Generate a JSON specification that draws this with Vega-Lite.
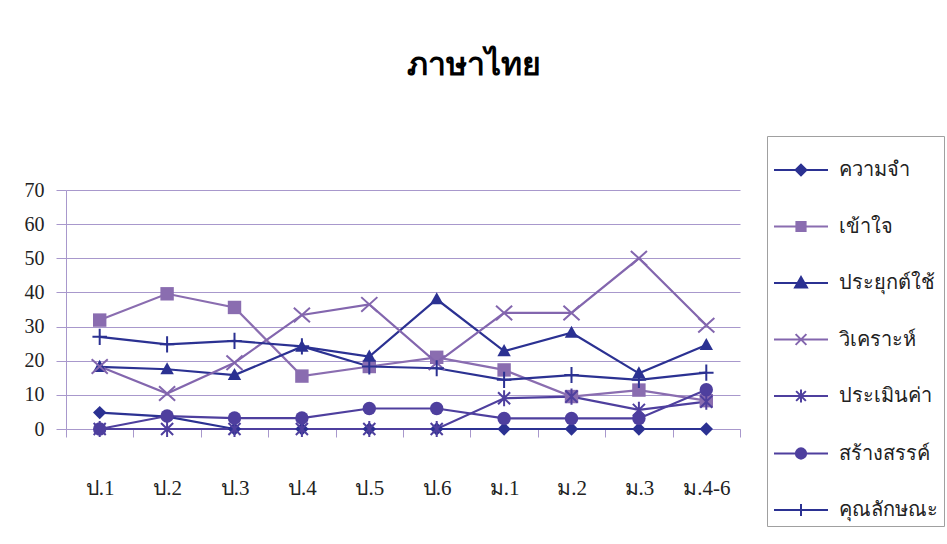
{
  "$schema": "https://vega.github.io/schema/vega-lite/v6.json",
  "width": 674,
  "height": 239,
  "autosize": {"type": "none"},
  "padding": {"left": 66, "top": 190, "right": 207, "bottom": 115},
  "background": "white",
  "title": {
    "text": "ภาษาไทย",
    "fontSize": 32,
    "fontWeight": "bold",
    "font": "Liberation Serif",
    "color": "black",
    "anchor": "middle",
    "frame": "bounds",
    "offset": 54,
    "dx": -10
  },
  "data": {
    "values": [
      {"grade": "ป.1", "series": "ความจำ", "value": 4.8},
      {"grade": "ป.2", "series": "ความจำ", "value": 3.6},
      {"grade": "ป.3", "series": "ความจำ", "value": 0},
      {"grade": "ป.4", "series": "ความจำ", "value": 0},
      {"grade": "ป.5", "series": "ความจำ", "value": 0},
      {"grade": "ป.6", "series": "ความจำ", "value": 0},
      {"grade": "ม.1", "series": "ความจำ", "value": 0},
      {"grade": "ม.2", "series": "ความจำ", "value": 0},
      {"grade": "ม.3", "series": "ความจำ", "value": 0},
      {"grade": "ม.4-6", "series": "ความจำ", "value": 0},
      {"grade": "ป.1", "series": "เข้าใจ", "value": 31.9},
      {"grade": "ป.2", "series": "เข้าใจ", "value": 39.6},
      {"grade": "ป.3", "series": "เข้าใจ", "value": 35.6},
      {"grade": "ป.4", "series": "เข้าใจ", "value": 15.5},
      {"grade": "ป.5", "series": "เข้าใจ", "value": 18.3},
      {"grade": "ป.6", "series": "เข้าใจ", "value": 21.0},
      {"grade": "ม.1", "series": "เข้าใจ", "value": 17.3},
      {"grade": "ม.2", "series": "เข้าใจ", "value": 9.5},
      {"grade": "ม.3", "series": "เข้าใจ", "value": 11.4},
      {"grade": "ม.4-6", "series": "เข้าใจ", "value": 8.3},
      {"grade": "ป.1", "series": "ประยุกต์ใช้", "value": 18.2},
      {"grade": "ป.2", "series": "ประยุกต์ใช้", "value": 17.5},
      {"grade": "ป.3", "series": "ประยุกต์ใช้", "value": 15.8},
      {"grade": "ป.4", "series": "ประยุกต์ใช้", "value": 24.1},
      {"grade": "ป.5", "series": "ประยุกต์ใช้", "value": 21.2},
      {"grade": "ป.6", "series": "ประยุกต์ใช้", "value": 38.0},
      {"grade": "ม.1", "series": "ประยุกต์ใช้", "value": 22.8},
      {"grade": "ม.2", "series": "ประยุกต์ใช้", "value": 28.2},
      {"grade": "ม.3", "series": "ประยุกต์ใช้", "value": 16.3},
      {"grade": "ม.4-6", "series": "ประยุกต์ใช้", "value": 24.6},
      {"grade": "ป.1", "series": "วิเคราะห์", "value": 18.3},
      {"grade": "ป.2", "series": "วิเคราะห์", "value": 10.4},
      {"grade": "ป.3", "series": "วิเคราะห์", "value": 19.4},
      {"grade": "ป.4", "series": "วิเคราะห์", "value": 33.4},
      {"grade": "ป.5", "series": "วิเคราะห์", "value": 36.5},
      {"grade": "ป.6", "series": "วิเคราะห์", "value": 19.4},
      {"grade": "ม.1", "series": "วิเคราะห์", "value": 34.0},
      {"grade": "ม.2", "series": "วิเคราะห์", "value": 34.0},
      {"grade": "ม.3", "series": "วิเคราะห์", "value": 50.0},
      {"grade": "ม.4-6", "series": "วิเคราะห์", "value": 30.4},
      {"grade": "ป.1", "series": "ประเมินค่า", "value": 0},
      {"grade": "ป.2", "series": "ประเมินค่า", "value": 0},
      {"grade": "ป.3", "series": "ประเมินค่า", "value": 0},
      {"grade": "ป.4", "series": "ประเมินค่า", "value": 0},
      {"grade": "ป.5", "series": "ประเมินค่า", "value": 0},
      {"grade": "ป.6", "series": "ประเมินค่า", "value": 0},
      {"grade": "ม.1", "series": "ประเมินค่า", "value": 9.0},
      {"grade": "ม.2", "series": "ประเมินค่า", "value": 9.5},
      {"grade": "ม.3", "series": "ประเมินค่า", "value": 5.6},
      {"grade": "ม.4-6", "series": "ประเมินค่า", "value": 8.0},
      {"grade": "ป.1", "series": "สร้างสรรค์", "value": 0},
      {"grade": "ป.2", "series": "สร้างสรรค์", "value": 3.8},
      {"grade": "ป.3", "series": "สร้างสรรค์", "value": 3.2},
      {"grade": "ป.4", "series": "สร้างสรรค์", "value": 3.2},
      {"grade": "ป.5", "series": "สร้างสรรค์", "value": 6.0},
      {"grade": "ป.6", "series": "สร้างสรรค์", "value": 6.0},
      {"grade": "ม.1", "series": "สร้างสรรค์", "value": 3.1},
      {"grade": "ม.2", "series": "สร้างสรรค์", "value": 3.1},
      {"grade": "ม.3", "series": "สร้างสรรค์", "value": 3.1},
      {"grade": "ม.4-6", "series": "สร้างสรรค์", "value": 11.5},
      {"grade": "ป.1", "series": "คุณลักษณะ", "value": 27.0},
      {"grade": "ป.2", "series": "คุณลักษณะ", "value": 24.8},
      {"grade": "ป.3", "series": "คุณลักษณะ", "value": 25.8},
      {"grade": "ป.4", "series": "คุณลักษณะ", "value": 24.2},
      {"grade": "ป.5", "series": "คุณลักษณะ", "value": 18.3},
      {"grade": "ป.6", "series": "คุณลักษณะ", "value": 17.8},
      {"grade": "ม.1", "series": "คุณลักษณะ", "value": 14.4},
      {"grade": "ม.2", "series": "คุณลักษณะ", "value": 15.8},
      {"grade": "ม.3", "series": "คุณลักษณะ", "value": 14.4},
      {"grade": "ม.4-6", "series": "คุณลักษณะ", "value": 16.5}
    ]
  },
  "encoding": {
    "x": {
      "field": "grade",
      "type": "ordinal",
      "sort": null,
      "scale": {"paddingInner": 0, "paddingOuter": 0},
      "axis": {
        "title": null,
        "labelAngle": 0,
        "labelFont": "Liberation Serif",
        "labelFontSize": 21,
        "labelColor": "#222222",
        "labelPadding": 40,
        "tickBand": "extent",
        "tickSize": 8,
        "tickColor": "#A898CC",
        "domainColor": "#A898CC",
        "grid": false
      }
    },
    "y": {
      "field": "value",
      "type": "quantitative",
      "scale": {"domain": [0, 70], "nice": false},
      "axis": {
        "title": null,
        "values": [0, 10, 20, 30, 40, 50, 60, 70],
        "labelFont": "Liberation Serif",
        "labelFontSize": 20,
        "labelColor": "#222222",
        "labelPadding": 12,
        "tickSize": 10,
        "tickColor": "#A898CC",
        "domainColor": "#A898CC",
        "gridColor": "#A898CC",
        "gridOpacity": 1
      }
    },
    "color": {
      "field": "series",
      "type": "nominal",
      "sort": null,
      "scale": {
        "domain": ["ความจำ", "เข้าใจ", "ประยุกต์ใช้", "วิเคราะห์", "ประเมินค่า", "สร้างสรรค์", "คุณลักษณะ"],
        "range": ["#2B3192", "#8A6DB0", "#2B3192", "#8366AE", "#4E3F9E", "#4E3F9E", "#2B3192"]
      },
      "legend": {
        "title": null,
        "orient": "none",
        "legendX": 701,
        "legendY": -54,
        "padding": 6,
        "rowPadding": 18.5,
        "strokeColor": "#A0A0A0",
        "symbolSize": 2916,
        "symbolStrokeWidth": 2,
        "labelOffset": 10,
        "labelFont": "Liberation Serif",
        "labelFontSize": 20,
        "labelColor": "#222222",
        "labelLimit": 200,
        "encode": {
          "symbols": {
            "update": {
              "shape": {"signal": "({'ความจำ':'M-1,0H1M0,-0.2L0.2,0L0,0.2L-0.2,0Z','เข้าใจ':'M-1,0H1M-0.17,-0.17H0.17V0.17H-0.17Z','ประยุกต์ใช้':'M-1,0H1M0,-0.22L0.22,0.17H-0.22Z','วิเคราะห์':'M-1,0H1M-0.2,-0.2L0.2,0.2M-0.2,0.2L0.2,-0.2','ประเมินค่า':'M-1,0H1M-0.18,-0.18L0.18,0.18M-0.18,0.18L0.18,-0.18M0,-0.24V0.24','สร้างสรรค์':'M-1,0H1M-0.19,0A0.19,0.19,0,1,0,0.19,0A0.19,0.19,0,1,0,-0.19,0Z','คุณลักษณะ':'M-1,0H1M0,-0.22V0.22'})[datum.value]"},
              "fill": {"scale": "color", "field": "value"},
              "stroke": {"scale": "color", "field": "value"},
              "strokeWidth": {"value": 2},
              "opacity": {"value": 1}
            }
          }
        }
      }
    }
  },
  "layer": [
    {
      "mark": {"type": "line", "strokeWidth": 2.2}
    },
    {
      "transform": [{"filter": "indexof(['ความจำ','เข้าใจ','ประยุกต์ใช้','สร้างสรรค์'], datum.series) >= 0"}],
      "mark": {"type": "point", "filled": true, "opacity": 1, "size": 180},
      "encoding": {
        "shape": {
          "field": "series",
          "type": "nominal",
          "scale": {
            "domain": ["ความจำ", "เข้าใจ", "ประยุกต์ใช้", "สร้างสรรค์"],
            "range": ["diamond", "square", "M0,-1.05L1,0.75H-1Z", "circle"]
          },
          "legend": null
        }
      }
    },
    {
      "transform": [{"filter": "indexof(['วิเคราะห์','ประเมินค่า','คุณลักษณะ'], datum.series) >= 0"}],
      "mark": {"type": "point", "filled": false, "opacity": 1, "size": 260, "strokeWidth": 2},
      "encoding": {
        "shape": {
          "field": "series",
          "type": "nominal",
          "scale": {
            "domain": ["วิเคราะห์", "ประเมินค่า", "คุณลักษณะ"],
            "range": ["M-1,-0.9L1,0.9M-1,0.9L1,-0.9", "M-0.75,-0.75L0.75,0.75M-0.75,0.75L0.75,-0.75M0,-1V1", "M-0.9,0H0.9M0,-1V1"]
          },
          "legend": null
        }
      }
    }
  ],
  "resolve": {"scale": {"shape": "independent"}},
  "config": {
    "view": {"stroke": null},
    "axis": {"gridWidth": 1, "domainWidth": 1, "tickWidth": 1}
  }
}
